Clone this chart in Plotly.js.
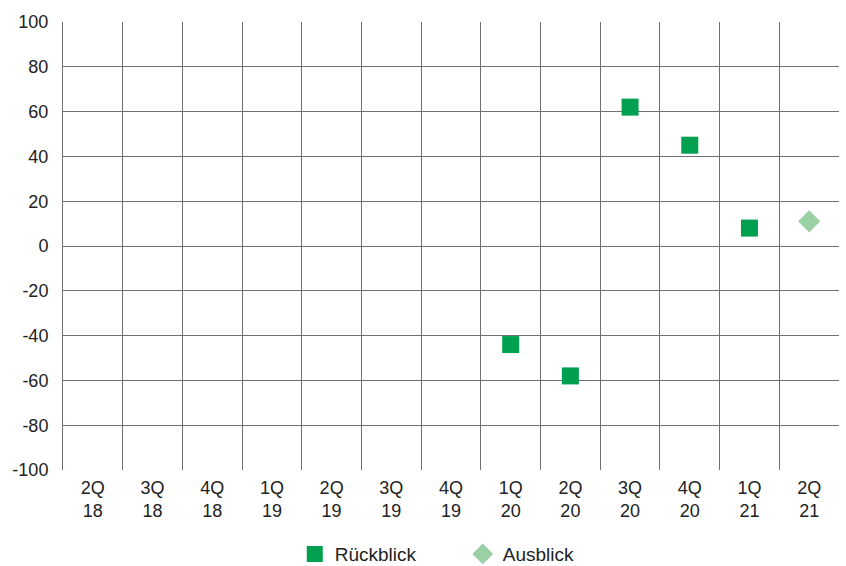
<!DOCTYPE html>
<html>
<head>
<meta charset="utf-8">
<script src="https://cdn.plot.ly/plotly-3.0.1.min.js"></script>
<style>
  html, body { margin: 0; padding: 0; background: #fff; }
  #chart { width: 846px; height: 566px; }
</style>
</head>
<body>
<div id="chart"></div>
<script>
// Quarter categories along the x axis (two-line labels)
const quarters = ["2Q<br>18", "3Q<br>18", "4Q<br>18", "1Q<br>19", "2Q<br>19", "3Q<br>19", "4Q<br>19",
                  "1Q<br>20", "2Q<br>20", "3Q<br>20", "4Q<br>20", "1Q<br>21", "2Q<br>21"];

// Review values (Rückblick)
const reviewQuarters = ["1Q<br>20", "2Q<br>20", "3Q<br>20", "4Q<br>20", "1Q<br>21"];
const reviewValues = [-44, -58, 62, 45, 8];

// Outlook value (Ausblick)
const outlookQuarters = ["2Q<br>21"];
const outlookValues = [11];

const yTicks = [-100, -80, -60, -40, -20, 0, 20, 40, 60, 80, 100];

const font = { family: "Liberation Sans, Arial, sans-serif", size: 18, color: "#222" };

const traces = [
  {
    type: "scatter", mode: "markers", name: "Rückblick",
    x: reviewQuarters, y: reviewValues,
    marker: { symbol: "square", size: 17, color: "#00A050" }
  },
  {
    type: "scatter", mode: "markers", name: "Ausblick",
    x: outlookQuarters, y: outlookValues,
    marker: { symbol: "diamond", size: 17, color: "#9BCFA4" }
  }
];

const layout = {
  width: 846, height: 566,
  margin: { l: 63, r: 7, t: 22, b: 96, autoexpand: false },
  paper_bgcolor: "#fff", plot_bgcolor: "#fff",
  font: font,
  showlegend: true,
  legend: {
    orientation: "h", xref: "container", x: 0.547, xanchor: "center",
    yref: "container", y: 0.021, yanchor: "middle",
    font: { family: font.family, size: 19, color: "#222" },
    itemwidth: 30, entrywidth: 123, tracegroupgap: 0
  },
  xaxis: {
    type: "category", categoryorder: "array", categoryarray: quarters,
    range: [-0.5, quarters.length - 0.5],
    tickson: "boundaries", ticks: "", showgrid: true,
    gridcolor: "#707070", gridwidth: 1,
    showline: false, zeroline: false, automargin: false,
    ticklabelstandoff: 5, fixedrange: true
  },
  yaxis: {
    range: [-100, 100], tickvals: yTicks, ticktext: yTicks.map(String),
    showgrid: true, gridcolor: "#707070", gridwidth: 1,
    zeroline: false, showline: true, linecolor: "#707070", linewidth: 1,
    ticks: "", ticklabelstandoff: 10, automargin: false, fixedrange: true
  }
};

Plotly.newPlot("chart", traces, layout, { displayModeBar: false, staticPlot: true });
</script>
</body>
</html>
